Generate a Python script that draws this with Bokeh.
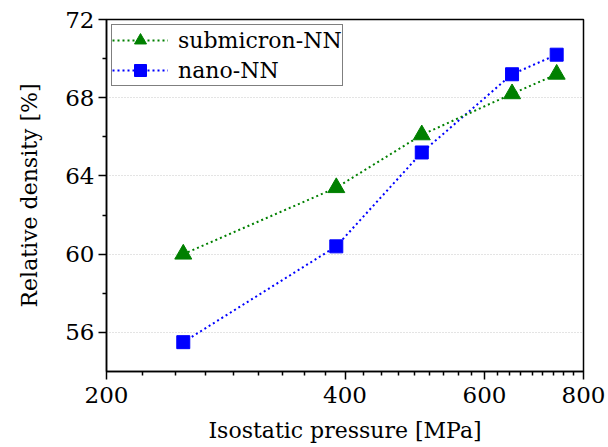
from bokeh.plotting import figure
from bokeh.models import FixedTicker, BasicTickFormatter, Legend, LegendItem, Range1d
from bokeh.embed import file_html
from bokeh.resources import INLINE

# Data
pressure = [250, 390, 500, 650, 740]
submicron_nn = [60.0, 63.4, 66.1, 68.2, 69.2]
nano_nn = [55.5, 60.4, 65.2, 69.2, 70.2]
x_ticks = [200, 400, 600, 800]
y_ticks = [56, 60, 64, 68, 72]
y_minor = [58, 62, 66, 70]

FONT = "DejaVu Serif"

p = figure(width=608, height=447, x_axis_type="log",
           x_range=Range1d(200, 800), y_range=Range1d(54, 72),
           output_backend="svg", toolbar_location=None,
           min_border_left=106, min_border_right=25,
           min_border_top=19, min_border_bottom=76)

x_minor = [200 + k * 200 / 9 for k in range(1, 27) if k % 9 != 0]
p.xaxis.ticker = FixedTicker(ticks=x_ticks, minor_ticks=x_minor)
p.xaxis.formatter = BasicTickFormatter()
p.yaxis.ticker = FixedTicker(ticks=y_ticks, minor_ticks=y_minor)

for ax in (p.xaxis, p.yaxis):
    ax.axis_line_color = "black"
    ax.axis_line_width = 1.5
    ax.major_tick_line_color = "black"
    ax.minor_tick_line_color = "black"
    ax.major_tick_line_width = 1.5
    ax.minor_tick_line_width = 1.5
    ax.major_tick_in = 0
    ax.major_tick_out = 8
    ax.minor_tick_in = 0
    ax.minor_tick_out = 4
    ax.major_label_text_font = FONT
    ax.major_label_text_font_size = "23px"
    ax.major_label_text_color = "black"
    ax.axis_label_text_font = FONT
    ax.axis_label_text_font_size = "22px"
    ax.axis_label_text_font_style = "normal"
    ax.axis_label_text_color = "black"

p.xaxis.major_label_standoff = 7
p.yaxis.major_label_standoff = 4
p.xaxis.axis_label = "Isostatic pressure [MPa]"
p.yaxis.axis_label = "Relative density [%]"
p.xaxis.axis_label_standoff = 12
p.yaxis.axis_label_standoff = 20

p.xgrid.visible = False
p.ygrid.grid_line_color = "#c8c8c8"
p.ygrid.grid_line_dash = "1 2"
p.ygrid.grid_line_width = 1

p.outline_line_color = "black"
p.outline_line_width = 1.5
p.outline_line_alpha = 1.0

nl = p.line(pressure, nano_nn, line_color="#0000ff", line_width=2, line_dash="2 3")
ns = p.scatter(pressure, nano_nn, marker="square", size=13,
               fill_color="#0000ff", line_color="#0000ff")
gl = p.line(pressure, submicron_nn, line_color="#008000", line_width=2, line_dash="2 3")
gs = p.scatter(pressure, submicron_nn, marker="triangle", size=17,
               fill_color="#008000", line_color="#008000")

legend = Legend(items=[
    LegendItem(label="submicron-NN", renderers=[gl, gs]),
    LegendItem(label="nano-NN", renderers=[nl, ns]),
], location="top_left")
legend.margin = 5
legend.padding = 0
legend.spacing = -4
legend.glyph_width = 56
legend.glyph_height = 30
legend.label_height = 26
legend.label_standoff = 10
legend.label_text_font = FONT
legend.label_text_font_size = "22px"
legend.label_text_color = "black"
legend.border_line_color = "black"
legend.border_line_width = 1
legend.background_fill_alpha = 1.0
p.add_layout(legend, "center")

open("out.html", "w").write(file_html(p, INLINE))
